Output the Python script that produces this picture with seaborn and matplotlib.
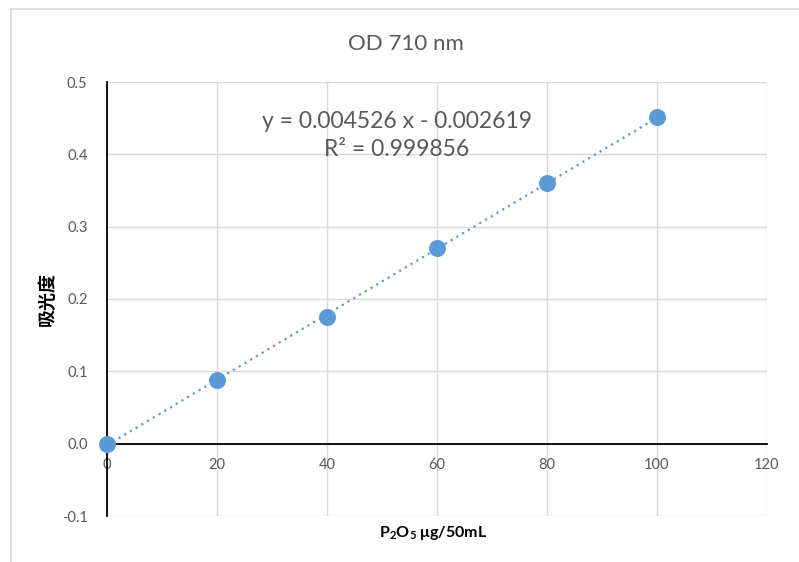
import numpy as np
import pandas as pd
import matplotlib
matplotlib.use("Agg")
from matplotlib import pyplot as plt
from matplotlib.lines import Line2D
import seaborn as sns

############### Data ######################
conc = [0, 20, 40, 60, 80, 100]                      # P2O5 ug/50mL
absorb = [0.0, 0.088, 0.175, 0.270, 0.361, 0.451]    # OD 710 nm
eq_text = "y = 0.004526 x - 0.002619"
r2_text = "R² = 0.999856"
xticks = [0, 20, 40, 60, 80, 100, 120]
yticks = [-0.1, 0.0, 0.1, 0.2, 0.3, 0.4, 0.5]

df = pd.DataFrame({"conc": conc, "absorb": absorb})

############### Plotting ######################
sns.set_style("white")
plt.rcParams["font.family"] = ["Lato", "Noto Sans CJK SC", "DejaVu Sans"]
plt.rcParams["mathtext.fontset"] = "custom"
plt.rcParams["mathtext.rm"] = "Lato"
plt.rcParams["mathtext.bf"] = "Lato:bold"

blue = "#5B9BD5"
grey_txt = "#595959"
grid_col = "#D9D9D9"

fig = plt.figure(figsize=(7.99, 5.62), dpi=100)
ax = fig.add_axes([107 / 799, 1 - 516 / 562, 660 / 799, 434 / 562])

# outer chart border (only left and top edges fall inside the image)
bx, by = 10.5 / 799, 1 - 8.5 / 562
fig.add_artist(Line2D([bx, bx], [0, by], transform=fig.transFigure,
                      color=grid_col, linewidth=1.2))
fig.add_artist(Line2D([bx, 1], [by, by], transform=fig.transFigure,
                      color=grid_col, linewidth=1.2))

# trendline from linear fit
slope, icpt = np.polyfit(conc, absorb, 1)
xs = np.array([conc[0], conc[-1]])
ax.plot(xs, slope * xs + icpt, linestyle=(0, (1, 2)), color=blue,
        linewidth=1.6, zorder=3)

sns.scatterplot(data=df, x="conc", y="absorb", ax=ax, s=150, color=blue,
                edgecolor=blue, linewidth=0, zorder=4, clip_on=False)

ax.set_xlim(0, 120)
ax.set_ylim(-0.1, 0.5)
ax.set_xticks(xticks)
ax.set_yticks(yticks)
ax.set_xticklabels([str(t) for t in xticks])
ax.set_yticklabels([f"{t:.1f}" for t in yticks])
ax.tick_params(length=0, labelsize=10.5, labelcolor=grey_txt)
ax.tick_params(axis="y", pad=14)
ax.tick_params(axis="x", pad=10)

ax.grid(True, color=grid_col, linewidth=1.0)
ax.set_axisbelow(True)
for s in ["top", "right"]:
    ax.spines[s].set_visible(False)
ax.spines["bottom"].set_position(("data", 0))
ax.spines["bottom"].set_color("black")
ax.spines["bottom"].set_linewidth(1.3)
ax.spines["left"].set_color("black")
ax.spines["left"].set_linewidth(1.3)

ax.set_xlabel("")
ax.set_ylabel("")
fig.text(433 / 799, 1 - 533 / 562, r"$\mathbf{P_{2}O_{5}}$ μg/50mL",
         ha="center", va="center", fontsize=11.5, fontweight="bold", color="black")
fig.text(47 / 799, 1 - 299 / 562, "吸光度", rotation=90, ha="center", va="center",
         fontsize=13, fontweight="bold", color="black",
         family=["Noto Sans CJK SC", "DejaVu Sans"])

fig.text(406 / 799, 1 - 44 / 562, "OD 710 nm", ha="center", va="center",
         fontsize=16, color=grey_txt)
fig.text(397 / 799, 1 - 121 / 562, eq_text, ha="center", va="center",
         fontsize=16.5, color=grey_txt)
fig.text(397 / 799, 1 - 149 / 562, r2_text, ha="center", va="center",
         fontsize=16.5, color=grey_txt)

fig.savefig("out.png", dpi=100, facecolor="white")
